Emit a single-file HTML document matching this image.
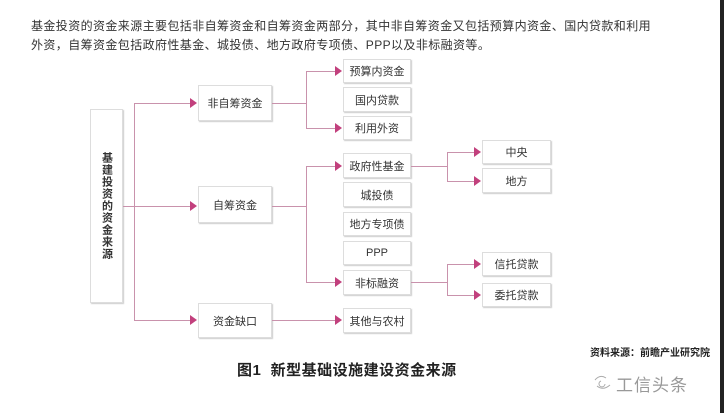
<!DOCTYPE html>
<html><head><meta charset="utf-8"><style>
body{margin:0;width:724px;height:413px;background:#fff;position:relative;overflow:hidden;font-family:"Liberation Sans","Noto Sans CJK SC",sans-serif;}
.t{position:absolute;left:31px;font-size:12px;color:#333;white-space:nowrap;letter-spacing:0.4px}
.b{position:absolute;box-sizing:border-box;border:1px solid #ddd;box-shadow:1px 1px 1px #ccc;background:#fff;font-size:11px;color:#333;display:flex;align-items:center;justify-content:center;white-space:nowrap}
.ln{position:absolute;background:#c992ac}
.ar{position:absolute;width:0;height:0;border-top:5px solid transparent;border-bottom:5px solid transparent;border-left:7px solid #c2407d}
</style></head><body>
<div class="t" style="top:17px">基金投资的资金来源主要包括非自筹资金和自筹资金两部分，其中非自筹资金又包括预算内资金、国内贷款和利用</div>
<div class="t" style="top:36px">外资，自筹资金包括政府性基金、城投债、地方政府专项债、PPP以及非标融资等。</div>

<div class="b" style="left:90px;top:109px;width:33px;height:194px;font-weight:bold;writing-mode:vertical-rl;letter-spacing:1px;font-size:11px">基建投资的资金来源</div>

<div class="ln" style="left:123px;top:206px;width:11px;height:1px"></div>
<div class="ln" style="left:134px;top:103px;width:1px;height:218px"></div>
<div class="ln" style="left:134px;top:103px;width:56px;height:1px"></div>
<div class="ln" style="left:134px;top:206px;width:56px;height:1px"></div>
<div class="ln" style="left:134px;top:320px;width:56px;height:1px"></div>
<div class="ar" style="left:190px;top:98px"></div>
<div class="ar" style="left:190px;top:201px"></div>
<div class="ar" style="left:190px;top:315px"></div>

<div class="b" style="left:198px;top:85px;width:74px;height:36px">非自筹资金</div>
<div class="b" style="left:198px;top:186px;width:74px;height:37px">自筹资金</div>
<div class="b" style="left:198px;top:303px;width:74px;height:35px">资金缺口</div>

<div class="ln" style="left:272px;top:103px;width:34px;height:1px"></div>
<div class="ln" style="left:306px;top:71px;width:1px;height:57px"></div>
<div class="ln" style="left:306px;top:71px;width:29px;height:1px"></div>
<div class="ln" style="left:306px;top:128px;width:29px;height:1px"></div>
<div class="ar" style="left:335px;top:66px"></div>
<div class="ar" style="left:335px;top:123px"></div>

<div class="ln" style="left:272px;top:206px;width:34px;height:1px"></div>
<div class="ln" style="left:306px;top:166px;width:1px;height:117px"></div>
<div class="ln" style="left:306px;top:166px;width:29px;height:1px"></div>
<div class="ln" style="left:306px;top:282px;width:29px;height:1px"></div>
<div class="ar" style="left:335px;top:161px"></div>
<div class="ar" style="left:335px;top:277px"></div>

<div class="ln" style="left:272px;top:320px;width:63px;height:1px"></div>
<div class="ar" style="left:335px;top:315px"></div>

<div class="b" style="left:343px;top:59px;width:68px;height:24px">预算内资金</div>
<div class="b" style="left:343px;top:87px;width:68px;height:25px">国内贷款</div>
<div class="b" style="left:343px;top:116px;width:68px;height:24px">利用外资</div>
<div class="b" style="left:343px;top:153px;width:68px;height:25px">政府性基金</div>
<div class="b" style="left:343px;top:182px;width:68px;height:25px">城投债</div>
<div class="b" style="left:343px;top:212px;width:68px;height:24px">地方专项债</div>
<div class="b" style="left:343px;top:241px;width:68px;height:24px">PPP</div>
<div class="b" style="left:343px;top:270px;width:68px;height:25px">非标融资</div>
<div class="b" style="left:343px;top:308px;width:68px;height:25px">其他与农村</div>

<div class="ln" style="left:411px;top:166px;width:36px;height:1px"></div>
<div class="ln" style="left:447px;top:152px;width:1px;height:29px"></div>
<div class="ln" style="left:447px;top:152px;width:27px;height:1px"></div>
<div class="ln" style="left:447px;top:181px;width:27px;height:1px"></div>
<div class="ar" style="left:474px;top:147px"></div>
<div class="ar" style="left:474px;top:176px"></div>

<div class="ln" style="left:411px;top:282px;width:36px;height:1px"></div>
<div class="ln" style="left:447px;top:264px;width:1px;height:31px"></div>
<div class="ln" style="left:447px;top:264px;width:27px;height:1px"></div>
<div class="ln" style="left:447px;top:295px;width:27px;height:1px"></div>
<div class="ar" style="left:474px;top:259px"></div>
<div class="ar" style="left:474px;top:290px"></div>

<div class="b" style="left:482px;top:140px;width:69px;height:24px">中央</div>
<div class="b" style="left:482px;top:168px;width:69px;height:25px">地方</div>
<div class="b" style="left:482px;top:252px;width:69px;height:24px">信托贷款</div>
<div class="b" style="left:482px;top:283px;width:69px;height:24px">委托贷款</div>

<div style="position:absolute;left:590px;top:344px;font-size:10px;font-weight:bold;color:#222;white-space:nowrap">资料来源：前瞻产业研究院</div>
<div style="position:absolute;left:237px;top:359px;font-size:15px;font-weight:bold;color:#222;white-space:nowrap;letter-spacing:0.5px">图1&nbsp; 新型基础设施建设资金来源</div>
<svg style="position:absolute;left:592px;top:372px" width="22" height="20"><path d="M3 8 Q8 2 14 6 M5 14 Q11 19 18 13 M9 9 a3 3 0 1 0 4 3" stroke="#aaa" fill="none" stroke-width="1"/></svg>
<div style="position:absolute;left:616px;top:371px;font-size:17px;color:#999;white-space:nowrap;letter-spacing:1px">工信头条</div>
<div style="position:absolute;left:720px;top:0;width:4px;height:413px;background:#222"></div>
</body></html>
